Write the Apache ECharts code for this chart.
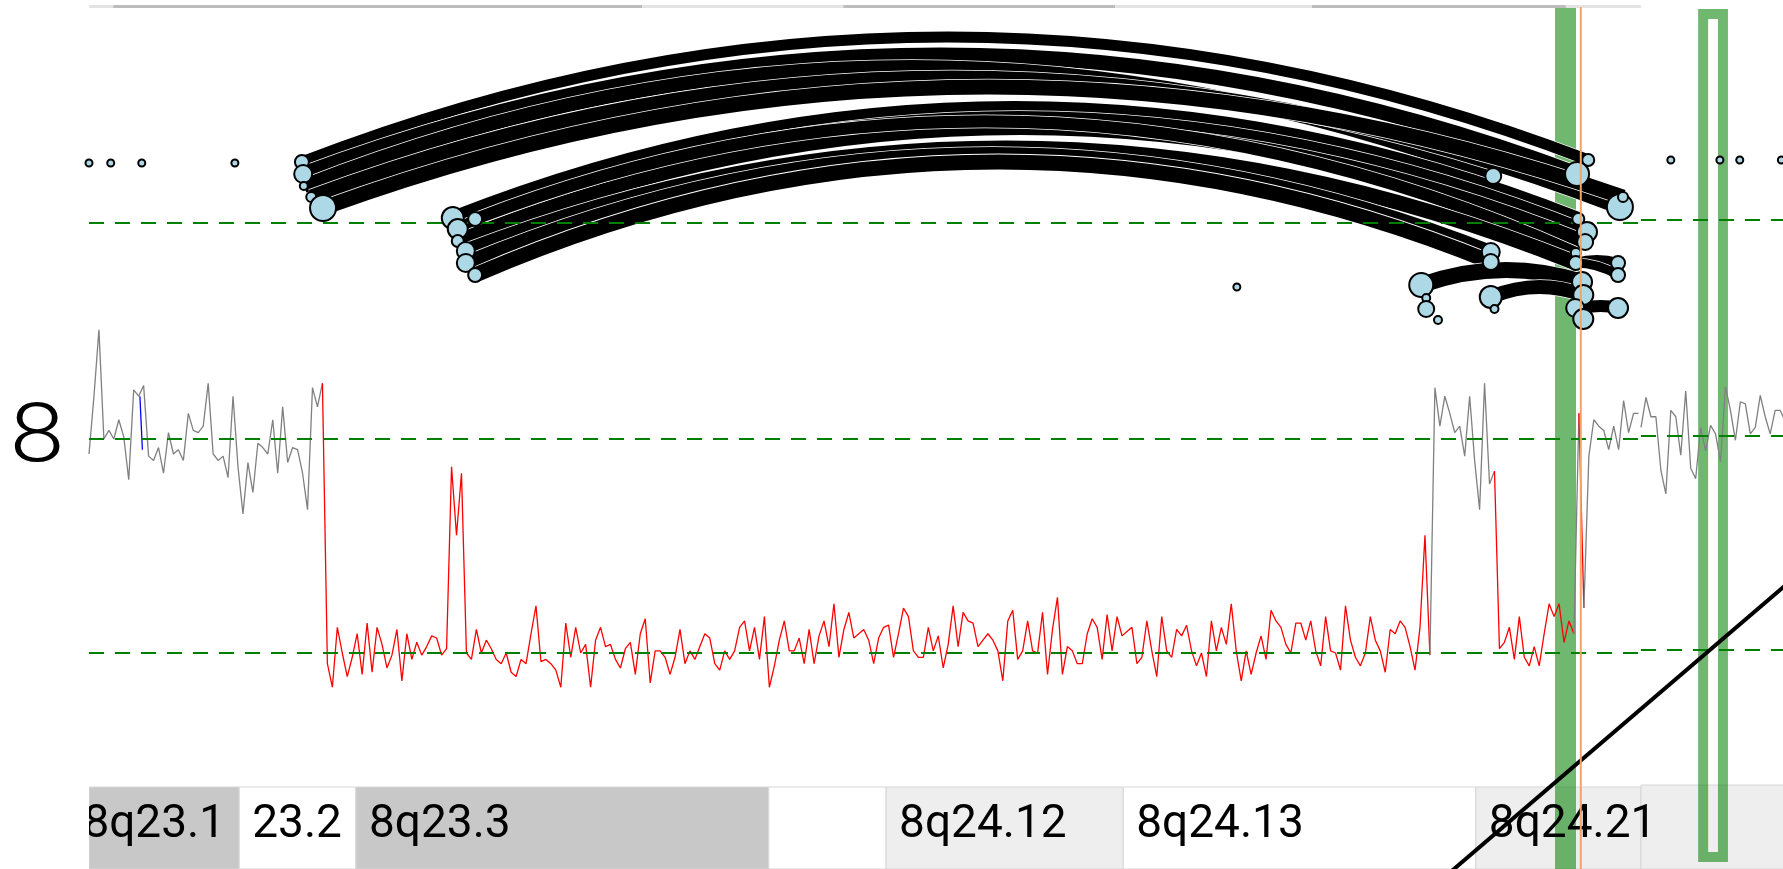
<!DOCTYPE html>
<html>
<head>
<meta charset="utf-8">
<title>chr8 copy number and interactions</title>
<script src="https://cdn.jsdelivr.net/npm/echarts@6.0.0/dist/echarts.min.js"></script>
<style>
html,body{margin:0;padding:0;background:#ffffff;}
#chart{width:1783px;height:869px;}
</style>
</head>
<body>
<div id="chart"></div>
<script>
// ================= DATA =================
const chromLabel = '8';
const leftXRange = [105.5, 130.5];      // Mb, left panel
const rightXRange = [131.0, 135.83];    // Mb, right panel
const cnBin = 0.08;                     // Mb per copy-number bin
const cnLeftStart = 105.5;
const cnLeft = [
 1.93,2.20,2.51,2.00,2.04,2.00,2.09,2.01,1.81,2.23,
 2.20,2.25,1.92,1.90,1.96,1.84,2.03,1.93,1.95,1.90,
 2.12,2.04,2.03,2.06,2.26,1.93,1.90,1.92,1.82,2.20,
 1.87,1.65,1.89,1.75,1.98,1.96,1.93,2.09,1.84,2.15,
 1.89,1.96,1.95,1.84,1.67,2.24,2.15,2.26,0.95,0.84,
 1.12,1.00,0.89,0.98,1.09,0.90,1.14,0.91,1.12,1.04,
 0.93,0.99,1.11,0.87,1.09,0.97,1.05,0.99,1.03,1.08,
 1.07,0.99,1.02,1.87,1.55,1.84,1.00,0.97,1.11,1.00,
 1.06,1.02,0.97,0.95,1.00,0.91,0.89,0.97,0.95,1.09,
 1.22,0.96,0.97,0.95,0.92,0.84,1.14,0.98,1.12,1.00,
 1.04,0.84,1.06,1.12,1.03,1.04,0.97,0.93,1.02,1.05,
 0.90,1.09,1.16,0.86,1.01,1.01,0.98,0.90,0.98,1.11,
 0.95,1.01,0.97,1.03,1.09,1.07,0.95,0.92,1.01,0.97,
 1.01,1.12,1.15,1.01,1.12,0.97,1.17,0.84,0.94,1.06,
 1.15,1.01,1.01,1.07,0.95,1.11,0.95,1.08,1.15,1.03,
 1.23,0.98,1.11,1.19,1.07,1.09,1.11,1.06,0.95,1.07,
 1.12,1.13,0.98,1.09,1.21,1.17,1.01,0.98,0.98,1.12,
 1.01,1.08,0.93,1.04,1.22,1.03,1.19,1.15,1.14,1.03,
 1.06,1.09,1.06,1.01,0.87,1.15,1.20,0.97,1.01,1.15,
 1.01,1.00,1.19,0.90,1.11,1.26,0.90,1.03,1.01,0.95,
 0.95,1.09,1.16,1.12,0.97,1.18,1.01,1.17,1.08,1.10,
 1.12,0.95,0.98,1.15,1.01,0.89,1.17,1.01,0.98,1.11,
 1.08,1.13,1.01,0.94,1.00,0.89,1.15,1.01,1.12,1.04,
 1.23,1.01,0.87,1.01,0.90,1.00,1.08,0.97,1.20,1.15,
 1.12,1.04,1.00,1.14,1.14,1.06,1.15,1.01,0.94,1.17,
 1.01,1.00,0.92,1.22,1.06,0.98,0.94,1.00,1.17,1.06,
 1.01,0.91,1.11,1.09,1.15,1.12,1.03,0.92,1.12,1.55,
 0.99,2.24,2.06,2.20,2.12,2.03,2.06,1.92,2.20,1.90,
 1.67,2.26,1.79,1.85,1.02,1.05,1.12,0.97,1.17,0.98,
 0.94,1.03,0.94,1.09,1.23,1.17,1.23,1.05,1.15,1.09,
 2.12,1.21,1.92,2.09,2.06,2.04,1.95,2.06,1.95,2.18,
 2.03,2.12,2.12
];
// [first bin, last bin, state] state 0 = normal, 1 = loss
const cnLeftSegments = [[0,47,0],[47,270,1],[270,283,0],[283,299,1],[299,300,0],[300,301,1],[301,312,0]];
const cnBlueX = [106.32, 106.36];
const cnBlueY = [2.20, 1.95];
const cnRightStart = 131.0;
const cnRight = [2.04,2.18,2.09,2.09,1.84,1.73,2.12,2.09,1.91,2.21,
                 1.85,1.80,2.04,1.93,2.05,2.01,1.88,2.23,2.12,1.98,
                 2.16,2.15,2.01,2.04,2.19,2.09,2.01,2.12,2.12,2.07];
const cnReferenceLevels = [2, 1];
const arcThreshold = 1;

// interaction arcs: anchor positions (Mb), anchor scores, apex score, weight
const arcX1 = [108.93,108.95,108.96,109.08,109.27,111.36,111.44,111.44,111.72,111.57,111.57,111.72,126.96,128.08,129.45,129.45,129.57];
const arcY1 = [1.61,1.49,1.37,1.26,1.15,1.05,0.94,0.82,1.04,0.72,0.60,0.48,0.38,0.26,0.60,0.60,0.15];
const arcX2 = [129.65,129.47,128.12,130.16,130.21,129.49,129.63,129.60,129.45,129.45,128.08,128.08,129.55,129.57,130.13,130.13,130.13];
const arcY2 = [1.63,1.49,1.47,1.16,1.26,1.04,0.91,0.81,0.70,0.60,0.71,0.61,0.41,0.28,0.60,0.48,0.15];
const arcApex = [2.86,2.68,2.56,2.45,2.36,2.15,2.05,1.95,2.01,1.75,1.69,1.61,0.53,0.36,0.63,0.57,0.17];
const arcWeight = [11,15,14,15,15,14,14,14,12,15,14,15,16,14,10,9,12];

// anchors (bubbles)
const bubbleX = [105.50,105.85,106.35,107.85,123.99,
  108.93,108.95,108.96,109.08,109.27,
  111.36,111.72,111.44,111.44,111.57,111.57,111.72,
  129.65,129.47,128.12,130.16,130.21,129.49,129.63,129.60,129.45,129.45,
  128.08,128.08,126.96,127.04,127.04,127.23,128.08,128.14,
  129.55,129.57,129.44,129.57,130.13,130.13,130.13];
const bubbleY = [1.60,1.60,1.60,1.60,0.36,
  1.61,1.49,1.37,1.26,1.15,
  1.05,1.04,0.94,0.82,0.72,0.60,0.48,
  1.63,1.49,1.47,1.16,1.26,1.04,0.91,0.81,0.70,0.60,
  0.71,0.61,0.38,0.25,0.14,0.03,0.26,0.14,
  0.41,0.28,0.15,0.04,0.60,0.48,0.15];
const bubbleR = [3.5,3.5,3.5,3.5,3.5,
  7,9,4,5,13,
  11,7,10,6,9,9,7,
  6,12,8,13,5,6,10,8,5,7,
  9,8,12,4,8,4,11,4,
  10,10,9,10,7,7,10];
const rightDotX = [131.48, 132.27, 132.59, 133.26];
const rightDotY = [1.60, 1.60, 1.60, 1.60];
const rightDotR = [3.5, 3.5, 3.5, 3.5];

// cytobands
const bandName  = ['8q23.1','23.2','8q23.3','','8q24.12','8q24.13','8q24.21'];
const bandStart = [105.2,107.92,109.80,116.45,118.34,122.16,127.84];
const bandEnd   = [107.92,109.80,116.45,118.34,122.16,127.84,130.5];
const bandStain = ['gpos50','gneg','gpos50','gneg','gpos25','gneg','gpos25'];
const rightBandStart = [131.0];
const rightBandEnd = [135.83];
const rightBandStain = ['gpos25'];

// strip along the top edge
const stripStart = [105.5,105.89,114.41,117.65,122.03,125.20,129.29];
const stripEnd   = [105.89,114.41,117.65,122.03,125.20,129.29,130.5];
const stripShade = [0,1,0,1,0,1,0];

// highlights
const highlightLeft = [129.115, 129.453];
const breakpointLeft = 129.53;
const highlightRight = [131.92, 132.40];
// diagonal (Mb, copy-number units of the right panel)
const diagX = [127.90, 133.50];
const diagY = [-0.045, 1.346];

// ================= STYLE =================
const stainColor = {gpos50:'#c8c8c8', gpos25:'#eeeeee', gneg:'#ffffff'};
const stateColor = ['#808080', '#ff0000'];
const dashStyle = {color:'#008000', width:2, type:[15, 11]};
const greenFill = 'rgba(0,128,0,0.56)';

// ================= BUILD =================
const gridDefs = [
 {left:89, top:3, width:1552, height:320},
 {left:89, top:310.6, width:1552, height:470.8},
 {left:89, top:787, width:1552, height:82},
 {left:89, top:7, width:1552, height:862},
 {left:1641, top:0, width:300, height:320},
 {left:1641, top:307.6, width:300, height:470.8},
 {left:1641, top:785, width:300, height:84},
 {left:1641, top:9, width:300, height:853},
 {left:1341, top:307.6, width:600, height:599.2}   // wide frame for the diagonal
];
const xRanges = [leftXRange,leftXRange,leftXRange,leftXRange,rightXRange,rightXRange,rightXRange,rightXRange,
  [rightXRange[0] - 300/62.08, rightXRange[1]]];
const yRanges = [[0,3.2],[0.4,2.6],[0,1],[0,1],[0,3.2],[0.4,2.6],[0,1],[0,1],[-0.2,2.6]];
const grid = gridDefs.map(g => Object.assign({show:false, containLabel:false, outerBoundsMode:'none'}, g));
const xAxis = gridDefs.map((g,i) => ({type:'value', gridIndex:i, show:false, min:xRanges[i][0], max:xRanges[i][1]}));
const yAxis = gridDefs.map((g,i) => ({type:'value', gridIndex:i, show:false, min:yRanges[i][0], max:yRanges[i][1]}));

function markLines(levels){
  return {silent:true, symbol:['none','none'], label:{show:false}, lineStyle:dashStyle,
    emphasis:{disabled:true}, data: levels.map(v => ({yAxis:v}))};
}
function bandRects(starts, ends, stains){
  return function(params, api){
    const i = params.dataIndex;
    const a = api.coord([starts[i], 1]);
    const b = api.coord([ends[i], 0]);
    const cs = params.coordSys;
    const x0 = Math.max(a[0], cs.x), x1 = Math.min(b[0], cs.x + cs.width);
    return {type:'rect', shape:{x:x0, y:a[1], width:x1-x0, height:b[1]-a[1]},
      style:{fill:stainColor[stains[i]], stroke:'#d6d6d6', lineWidth:1}};
  };
}

const series = [];
series.push({type:'custom', xAxisIndex:2, yAxisIndex:2, z:0, silent:true,
  data: bandStart.map((s,i)=>[s, bandEnd[i]]), renderItem: bandRects(bandStart, bandEnd, bandStain)});
series.push({type:'custom', xAxisIndex:6, yAxisIndex:6, z:0, silent:true,
  data: rightBandStart.map((s,i)=>[s, rightBandEnd[i]]), renderItem: bandRects(rightBandStart, rightBandEnd, rightBandStain)});
series.push({type:'custom', xAxisIndex:3, yAxisIndex:3, z:1, silent:true,
  data:[[highlightLeft[0], highlightLeft[1]]],
  renderItem(params, api){
    const a = api.coord([api.value(0), 1]), b = api.coord([api.value(1), 0]);
    return {type:'rect', shape:{x:a[0], y:a[1], width:b[0]-a[0], height:b[1]-a[1]}, style:{fill:greenFill}};
  }});
series.push({type:'custom', xAxisIndex:7, yAxisIndex:7, z:1, silent:true,
  data:[[highlightRight[0], highlightRight[1]]],
  renderItem(params, api){
    const lw = 10;
    const a = api.coord([api.value(0), 1]), b = api.coord([api.value(1), 0]);
    return {type:'rect', shape:{x:a[0]+lw/2, y:a[1]+lw/2, width:b[0]-a[0]-lw, height:b[1]-a[1]-lw},
      style:{fill:null, stroke:greenFill, lineWidth:lw}};
  }});
series.push({type:'custom', xAxisIndex:3, yAxisIndex:3, z:1, silent:true,
  data: stripStart.map((s,i)=>[s, stripEnd[i]]),
  renderItem(params, api){
    const i = params.dataIndex;
    const a = api.coord([stripStart[i], 1]), b = api.coord([stripEnd[i], 1]);
    return {type:'rect', shape:{x:a[0], y:a[1]-2, width:b[0]-a[0], height:3},
      style:{fill: stripShade[i] ? '#bcbcbc' : '#e4e4e4'}};
  }});
series.push({type:'line', xAxisIndex:0, yAxisIndex:0, z:2, data:[], silent:true, markLine: markLines([arcThreshold])});
series.push({type:'line', xAxisIndex:4, yAxisIndex:4, z:2, data:[], silent:true, markLine: markLines([arcThreshold])});
cnLeftSegments.forEach((seg, k) => {
  const pts = [];
  for (let i = seg[0]; i <= seg[1]; i++) pts.push([+(cnLeftStart + i*cnBin).toFixed(3), cnLeft[i]]);
  const s = {type:'line', xAxisIndex:1, yAxisIndex:1, z:3, silent:true, symbol:'none', data:pts,
    lineStyle:{color:stateColor[seg[2]], width:1.3}, itemStyle:{color:stateColor[seg[2]]}};
  if (k === 0) s.markLine = markLines(cnReferenceLevels);
  series.push(s);
});
series.push({type:'line', xAxisIndex:1, yAxisIndex:1, z:3, silent:true, symbol:'none',
  data: cnBlueX.map((x,i)=>[x, cnBlueY[i]]), lineStyle:{color:'#0000ff', width:1.3}});
series.push({type:'line', xAxisIndex:5, yAxisIndex:5, z:3, silent:true, symbol:'none',
  data: cnRight.map((v,i)=>[+(cnRightStart + i*cnBin).toFixed(3), v]),
  lineStyle:{color:stateColor[0], width:1.3}, markLine: markLines(cnReferenceLevels)});
series.push({type:'custom', xAxisIndex:0, yAxisIndex:0, z:4, silent:true, clip:false,
  data: arcX1.map((x,i)=>[x, arcY1[i], arcX2[i], arcY2[i], arcApex[i], arcWeight[i]]),
  renderItem(params, api){
    const p1 = api.coord([api.value(0), api.value(1)]);
    const p2 = api.coord([api.value(2), api.value(3)]);
    const ay = api.coord([(api.value(0)+api.value(2))/2, api.value(4)])[1];
    const w = api.value(5);
    const shape = {x1:p1[0], y1:p1[1], x2:p2[0], y2:p2[1], cpx1:(p1[0]+p2[0])/2, cpy1:2*ay-(p1[1]+p2[1])/2};
    return {type:'group', children:[
      {type:'bezierCurve', shape, style:{stroke:'#ffffff', lineWidth:w+1.5, fill:null}},
      {type:'bezierCurve', shape, style:{stroke:'#000000', lineWidth:w, fill:null}}
    ]};
  }});
const bubbleStyle = {color:'#add8e6', borderColor:'#000000', borderWidth:2, opacity:1};
series.push({type:'scatter', xAxisIndex:0, yAxisIndex:0, z:5, silent:true,
  data: bubbleX.map((x,i)=>[x, bubbleY[i], bubbleR[i]]), symbolSize: v => v[2]*2, itemStyle:bubbleStyle});
series.push({type:'scatter', xAxisIndex:4, yAxisIndex:4, z:5, silent:true,
  data: rightDotX.map((x,i)=>[x, rightDotY[i], rightDotR[i]]), symbolSize: v => v[2]*2, itemStyle:bubbleStyle});
series.push({type:'custom', xAxisIndex:2, yAxisIndex:2, z:6, silent:true, clip:false,
  data: bandStart.map((s,i)=>[s, bandEnd[i]]),
  renderItem(params, api){
    const i = params.dataIndex;
    const a = api.coord([bandStart[i], 1]), b = api.coord([bandEnd[i], 0]);
    return {type:'text', x:a[0]+13, y:(a[1]+b[1])/2 - 3,
      style:{text:bandName[i], font:'46px Roboto', fill:'#000000', align:'left', verticalAlign:'middle'}};
  }});
series.push({type:'line', xAxisIndex:8, yAxisIndex:8, z:9, silent:true, clip:false, symbol:'none',
  data: diagX.map((x,i)=>[x, diagY[i]]), lineStyle:{color:'#000000', width:4}});
series.push({type:'line', xAxisIndex:3, yAxisIndex:3, z:10, silent:true, symbol:'none',
  data: [[breakpointLeft, 0],[breakpointLeft, 1]], lineStyle:{color:'#f4a460', width:2}});

const option = {
  animation:false,
  backgroundColor:'#ffffff',
  grid, xAxis, yAxis, series,
  graphic:[
    {type:'rect', z:100, silent:true, shape:{x:0, y:780, width:89, height:89}, style:{fill:'#ffffff'}},
    {type:'text', z:101, silent:true, x:37, y:440, scaleX:1.2,
      style:{text:chromLabel, font:'300 82px Roboto', fill:'#000000', align:'center', verticalAlign:'middle'}}
  ]
};
const chart = echarts.init(document.getElementById('chart'), null, {renderer:'canvas'});
chart.setOption(option);
</script>
</body>
</html>
